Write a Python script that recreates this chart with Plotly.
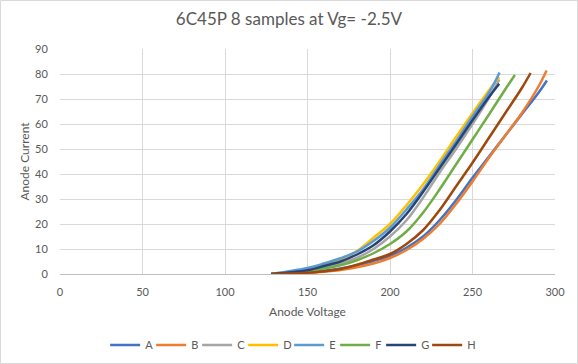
import plotly.graph_objects as go

names = ["A", "B", "C", "D", "E", "F", "G", "H"]
colors = ["#4472C4", "#ED7D31", "#A5A5A5", "#FFC000", "#5B9BD5", "#70AD47", "#264478", "#9E480E"]

# Anode voltage (V) / anode current (mA) readings for each sample
A_v = [128, 150, 160, 170, 180, 190, 200, 210, 220, 230, 240, 250, 260, 270, 280, 290, 295.1]
A_i = [0, 0.6, 1.3, 2.2, 3.5, 5.2, 7.3, 10.5, 15, 21.5, 29.5, 38.5, 47, 55.5, 64, 72.5, 77.4]
B_v = [128, 150, 160, 170, 180, 190, 200, 210, 220, 230, 240, 250, 260, 270, 280, 290, 294.9]
B_i = [0, 0.4, 0.9, 1.6, 2.7, 4.2, 6.4, 9.6, 14, 20, 28, 37, 46.5, 55.5, 64.5, 75, 81.4]
C_v = [128, 150, 160, 170, 180, 190, 200, 210, 220, 230, 240, 250, 260, 266.3]
C_i = [0, 1.3, 2.7, 4.3, 6.5, 10, 15, 21.5, 30.5, 40.5, 50, 60, 70.5, 77.8]
D_v = [128, 150, 160, 170, 180, 190, 200, 210, 220, 230, 240, 250, 260, 266.2]
D_i = [0, 2.0, 3.9, 6.0, 9.2, 14.5, 20, 27.5, 35.8, 45, 54.8, 64.3, 73.5, 78.8]
E_v = [128, 150, 160, 170, 180, 190, 200, 210, 220, 230, 240, 250, 260, 266.4]
E_i = [0, 2.4, 4.2, 6.3, 9, 13.2, 18.5, 25.8, 33.8, 43.5, 53, 63, 72.5, 80.6]
F_v = [128, 150, 160, 170, 180, 190, 200, 210, 220, 230, 240, 250, 260, 270, 275.7]
F_i = [0, 1.1, 2.2, 3.5, 5.5, 8.3, 12, 17, 24.5, 33.8, 43.8, 53.8, 63.8, 74, 79.6]
G_v = [128, 150, 160, 170, 180, 190, 200, 210, 220, 230, 240, 250, 260, 266.2]
G_i = [0, 1.5, 3.2, 5.0, 7.8, 11.5, 17, 24, 32.8, 42.3, 51.8, 61.5, 70.8, 76.1]
H_v = [128, 150, 160, 170, 180, 190, 200, 210, 220, 230, 240, 250, 260, 270, 280, 285.2]
H_i = [0, 0.5, 1.1, 2.0, 3.7, 5.8, 8.0, 12, 17.5, 25.5, 35, 44.5, 54.5, 64.5, 74.5, 80.4]

series = [(A_v, A_i), (B_v, B_i), (C_v, C_i), (D_v, D_i),
          (E_v, E_i), (F_v, F_i), (G_v, G_i), (H_v, H_i)]

x_ticks = [0, 50, 100, 150, 200, 250, 300]
y_ticks = [0, 10, 20, 30, 40, 50, 60, 70, 80, 90]

fig = go.Figure()
for k, (name, color, (vx, iy)) in enumerate(zip(names, colors, series)):
    fig.add_trace(go.Scatter(x=vx, y=iy, name=name, mode="lines",
                             legendwidth=10 if k == len(names) - 1 else None,
                             line=dict(color=color, width=2.5, shape="spline", smoothing=1.0)))

font_family = "Lato, Open Sans, sans-serif"
fig.update_layout(
    width=578, height=364,
    margin=dict(l=60, r=23, t=49, b=90, autoexpand=False),
    paper_bgcolor="white", plot_bgcolor="white",
    font=dict(family=font_family, color="#595959", size=11),
    title=dict(text="6C45P 8 samples at Vg= -2.5V", x=0.5, xanchor="center",
               y=1 - 19 / 364, yanchor="middle",
               font=dict(size=17, color="#595959", family=font_family)),
    xaxis=dict(range=[0, 300], tickvals=x_ticks, showgrid=True, gridcolor="#D9D9D9",
               showline=True, linecolor="#BFBFBF", zeroline=False,
               ticks="outside", ticklen=8, tickcolor="rgba(0,0,0,0)",
               automargin=False,
               title=dict(text="Anode Voltage", font=dict(size=12), standoff=10),
               tickfont=dict(size=11)),
    yaxis=dict(range=[0, 90], tickvals=y_ticks, showgrid=True, gridcolor="#D9D9D9",
               showline=False, zeroline=False,
               ticks="outside", ticklen=9, tickcolor="rgba(0,0,0,0)",
               automargin=False,
               title=dict(text="Anode Current", font=dict(size=12), standoff=2),
               tickfont=dict(size=11)),
    legend=dict(orientation="h", x=0.472, xanchor="center", y=-0.316, yanchor="middle",
                font=dict(size=11), itemwidth=30, entrywidth=1, traceorder="normal"),
    showlegend=True,
)
fig.add_shape(type="rect", xref="paper", yref="paper",
              x0=(0.5 - 60) / 495, x1=(577.5 - 60) / 495,
              y0=(274 - 363.5) / 225, y1=(274 - 0.5) / 225,
              line=dict(color="#D9D9D9", width=1), fillcolor="rgba(0,0,0,0)", layer="below")

fig.write_html("out.html", config={"displayModeBar": False},
               post_script="document.body.style.margin='0';document.body.style.overflow='hidden';")
